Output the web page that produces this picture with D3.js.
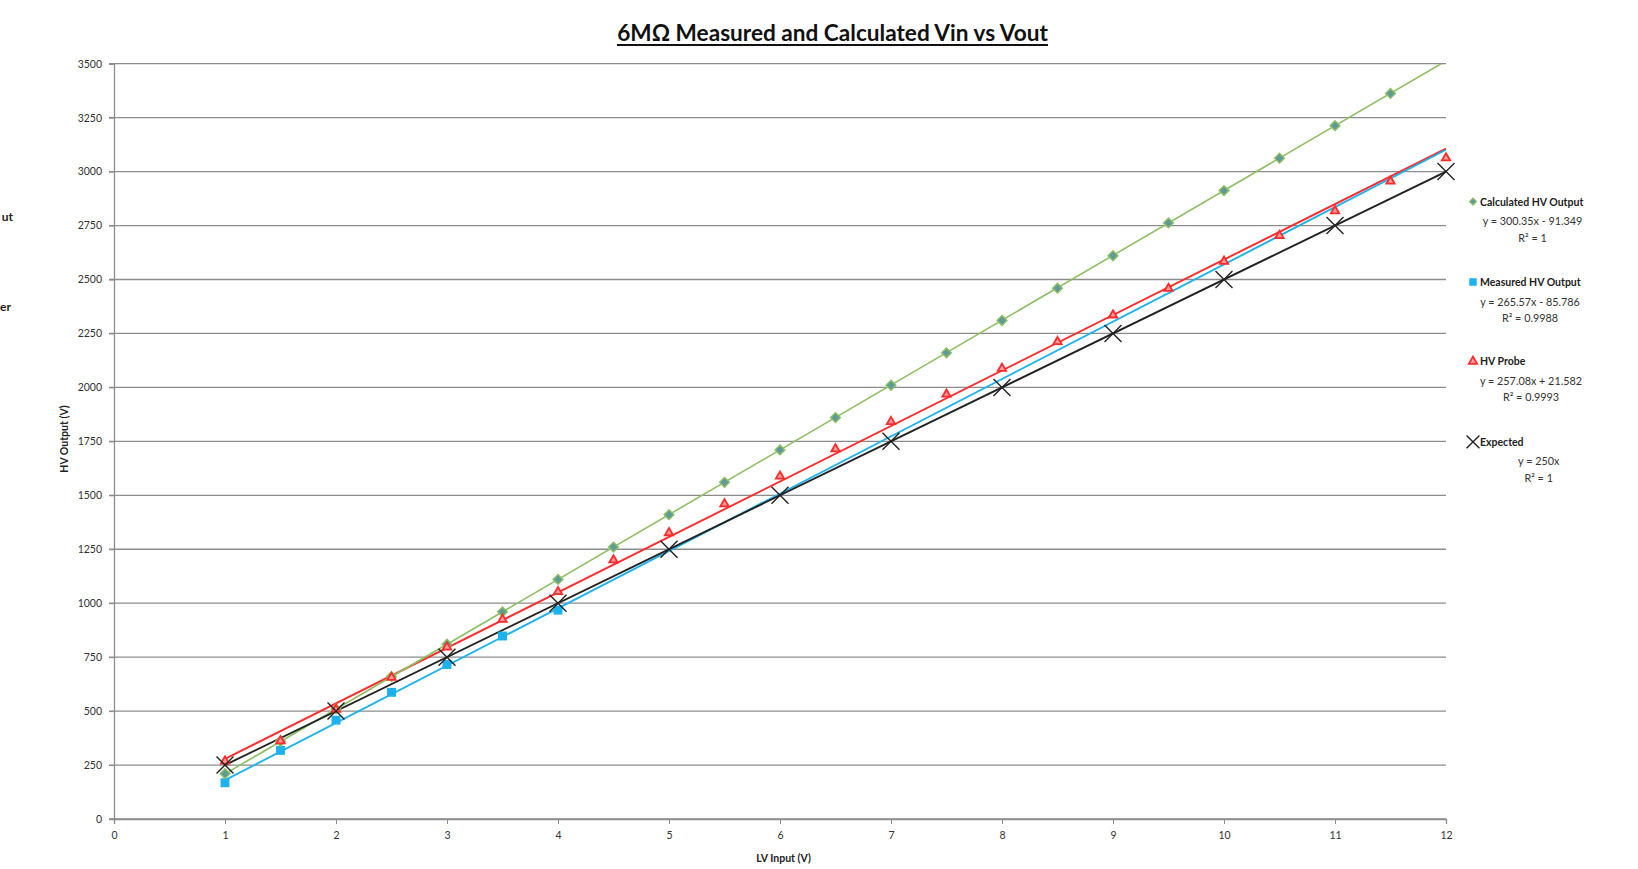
<!doctype html>
<html lang="en">
<head>
    <meta charset="UTF-8">
    <title>6MΩ Measured and Calculated Vin vs Vout</title>
    <script src="https://d3js.org/d3.v7.min.js"></script>
    <style>
        body { margin: 0; background: #fff; }
        text { font-family: Lato, "Open Sans", sans-serif; fill: #222; }
    </style>
</head>
<body>
<div id="chart"></div>
<script>

    //data
    const calcX = [1, 1.5, 2, 2.5, 3, 3.5, 4, 4.5, 5, 5.5, 6, 6.5, 7, 7.5, 8, 8.5, 9, 9.5, 10, 10.5, 11, 11.5];
    const calcY = [210, 360, 510, 660, 810, 960, 1110, 1260, 1410, 1560, 1710, 1860, 2010, 2160, 2310, 2460, 2610, 2762, 2912, 3062, 3213, 3362];

    const measX = [1, 1.5, 2, 2.5, 3, 3.5, 4];
    const measY = [168, 318, 458, 587, 716, 848, 968];

    const probeX = [1, 1.5, 2, 2.5, 3, 3.5, 4, 4.5, 5, 5.5, 6, 6.5, 7, 7.5, 8, 8.5, 9, 9.5, 10, 10.5, 11, 11.5, 12];
    const probeY = [268, 362, 508, 656, 796, 925, 1053, 1200, 1326, 1460, 1588, 1715, 1841, 1968, 2088, 2212, 2335, 2458, 2584, 2703, 2818, 2955, 3063];

    const expX = [1, 2, 3, 4, 5, 6, 7, 8, 9, 10, 11, 12];
    const expY = [250, 500, 750, 1000, 1250, 1500, 1750, 2000, 2250, 2500, 2750, 3000];

    //trendline text from the legend
    const seriesNames = ["Calculated HV Output", "Measured HV Output", "HV Probe", "Expected"];
    const trendSlope = [300.35, 265.57, 257.08, 250];
    const trendIntercept = [-91.349, -85.786, 21.582, 0];
    const trendLabels = ["y = 300.35x - 91.349", "y = 265.57x - 85.786", "y = 257.08x + 21.582", "y = 250x"];
    const r2Labels = ["R² = 1", "R² = 0.9988", "R² = 0.9993", "R² = 1"];

    const xTicks = [0, 1, 2, 3, 4, 5, 6, 7, 8, 9, 10, 11, 12];
    const yTicks = [0, 250, 500, 750, 1000, 1250, 1500, 1750, 2000, 2250, 2500, 2750, 3000, 3250, 3500];

    const width = 1638, height = 869;
    const colors = ["#8cc063", "#1db2ee", "#ff2a2a", "#222222"];

    let svg = d3.select("#chart").append("svg")
        .attr("width", width)
        .attr("height", height);

    //scales
    let x = d3.scaleLinear().domain([0, 12]).range([114, 1446]);
    let y = d3.scaleLinear().domain([0, 3500]).range([819, 63.7]);

    //gridlines
    svg.append("g")
        .selectAll("line")
        .data(yTicks)
        .enter()
        .append("line")
        .attr("x1", x(0) - 5)
        .attr("x2", x(12))
        .attr("y1", d => y(d))
        .attr("y2", d => y(d))
        .attr("stroke", "#8c8c8c")
        .attr("stroke-width", 1.3);

    //y axis
    let yAxis = svg.append("g")
        .attr("transform", "translate(" + x(0) + ",0)")
        .call(d3.axisLeft(y).tickValues(yTicks).tickFormat(d3.format("d")).tickSize(5).tickPadding(7));
    yAxis.select(".domain").attr("stroke", "#8c8c8c").attr("stroke-width", 1.3);
    yAxis.selectAll(".tick line").attr("stroke", "#8c8c8c");
    yAxis.selectAll("text").style("font-size", "10.5px").style("fill", "#333");

    //x axis
    let xAxis = svg.append("g")
        .attr("transform", "translate(0," + y(0) + ")")
        .call(d3.axisBottom(x).tickValues(xTicks).tickFormat(d3.format("d")).tickSize(5).tickPadding(8));
    xAxis.select(".domain").attr("stroke", "#8c8c8c").attr("stroke-width", 1.3);
    xAxis.selectAll(".tick line").attr("stroke", "#8c8c8c");
    xAxis.selectAll("text").style("font-size", "10.5px").style("fill", "#333");

    //clip the trendlines to the plot
    svg.append("clipPath").attr("id", "plotClip")
        .append("rect")
        .attr("x", x(0)).attr("y", y(3500))
        .attr("width", x(12) - x(0)).attr("height", y(0) - y(3500));

    //trendlines, forward to 12
    let trendG = svg.append("g").attr("clip-path", "url(#plotClip)");
    [2, 1, 0, 3].forEach(function (i) {
        trendG.append("line")
            .attr("x1", x(1))
            .attr("y1", y(trendSlope[i] * 1 + trendIntercept[i]))
            .attr("x2", x(12))
            .attr("y2", y(trendSlope[i] * 12 + trendIntercept[i]))
            .attr("stroke", colors[i])
            .attr("stroke-width", i === 0 ? 1.6 : 1.9);
    });

    //markers
    let diamond = d3.symbol().type(d3.symbolSquare).size(48);
    let square = d3.symbol().type(d3.symbolSquare).size(80);
    let triangle = d3.symbol().type(d3.symbolTriangle).size(30);
    let cross = d3.symbol().type(d3.symbolX).size(190);

    svg.append("g").selectAll("path")
        .data(measX)
        .enter()
        .append("path")
        .attr("d", square)
        .attr("transform", (d, i) => "translate(" + x(d) + "," + y(measY[i]) + ")")
        .attr("fill", colors[1]);

    svg.append("g").selectAll("path")
        .data(calcX)
        .enter()
        .append("path")
        .attr("d", diamond)
        .attr("transform", (d, i) => "translate(" + x(d) + "," + y(calcY[i]) + ") rotate(45)")
        .attr("fill", "#5f9a98")
        .attr("stroke", colors[0])
        .attr("stroke-width", 1.4);

    svg.append("g").selectAll("path")
        .data(probeX)
        .enter()
        .append("path")
        .attr("d", triangle)
        .attr("transform", (d, i) => "translate(" + x(d) + "," + y(probeY[i]) + ")")
        .attr("fill", "#ff9a9a")
        .attr("stroke", colors[2])
        .attr("stroke-width", 1.8);

    svg.append("g").selectAll("path")
        .data(expX)
        .enter()
        .append("path")
        .attr("d", cross)
        .attr("transform", (d, i) => "translate(" + x(d) + "," + y(expY[i]) + ")")
        .attr("fill", "none")
        .attr("stroke", colors[3])
        .attr("stroke-width", 1.4);

    //title, fitted to the width in the picture
    let title = svg.append("text")
        .attr("x", 832.5)
        .attr("y", 41)
        .attr("text-anchor", "middle")
        .style("font-weight", "bold")
        .style("font-size", "22px")
        .style("fill", "#111")
        .text("6MΩ Measured and Calculated Vin vs Vout");
    let tw = title.node().getComputedTextLength();
    title.style("font-size", (22 * 431 / tw) + "px");
    svg.append("line")
        .attr("x1", 832.5 - 215.5).attr("x2", 832.5 + 215.5)
        .attr("y1", 45).attr("y2", 45)
        .attr("stroke", "#111").attr("stroke-width", 1.8);

    //axis titles
    svg.append("text")
        .attr("transform", "translate(68,439) rotate(-90)")
        .attr("text-anchor", "middle")
        .style("font-weight", "bold")
        .style("font-size", "10.5px")
        .text("HV Output (V)");

    svg.append("text")
        .attr("x", 783.5)
        .attr("y", 862)
        .attr("text-anchor", "middle")
        .style("font-weight", "bold")
        .style("font-size", "10.5px")
        .text("LV Input (V)");

    //cut off text on the left edge
    svg.append("text").attr("x", 13).attr("y", 221).attr("text-anchor", "end")
        .style("font-weight", "bold").style("font-size", "12px").text("ut");
    svg.append("text").attr("x", 11).attr("y", 311).attr("text-anchor", "end")
        .style("font-weight", "bold").style("font-size", "12px").text("er");

    //legend
    const legY = [201.6, 282, 361.4, 441.9];
    const eqX = [1532.5, 1530, 1531, 1538.7];
    let legend = svg.append("g");
    legY.forEach(function (ly, i) {
        let m = legend.append("path");
        if (i === 0) m.attr("d", d3.symbol().type(d3.symbolSquare).size(24))
            .attr("transform", "translate(1473," + ly + ") rotate(45)")
            .attr("fill", "#5f9a98").attr("stroke", colors[0]).attr("stroke-width", 1.2);
        if (i === 1) m.attr("d", d3.symbol().type(d3.symbolSquare).size(56))
            .attr("transform", "translate(1473," + ly + ")")
            .attr("fill", colors[1]);
        if (i === 2) m.attr("d", d3.symbol().type(d3.symbolTriangle).size(30))
            .attr("transform", "translate(1473," + ly + ")")
            .attr("fill", "#ff9a9a").attr("stroke", colors[2]).attr("stroke-width", 1.8);
        if (i === 3) m.attr("d", d3.symbol().type(d3.symbolX).size(110))
            .attr("transform", "translate(1473," + ly + ")")
            .attr("fill", "none").attr("stroke", colors[3]).attr("stroke-width", 1.4);

        legend.append("text")
            .attr("x", 1480)
            .attr("y", ly + 4)
            .style("font-weight", "bold")
            .style("font-size", "10.5px")
            .text(seriesNames[i]);
        legend.append("text")
            .attr("x", eqX[i])
            .attr("y", ly + 23.5)
            .attr("text-anchor", "middle")
            .style("font-size", "10.8px")
            .style("fill", "#333")
            .text(trendLabels[i]);
        legend.append("text")
            .attr("x", eqX[i])
            .attr("y", ly + 40)
            .attr("text-anchor", "middle")
            .style("font-size", "10.8px")
            .style("fill", "#333")
            .text(r2Labels[i]);
    });

</script>
</body>
</html>
